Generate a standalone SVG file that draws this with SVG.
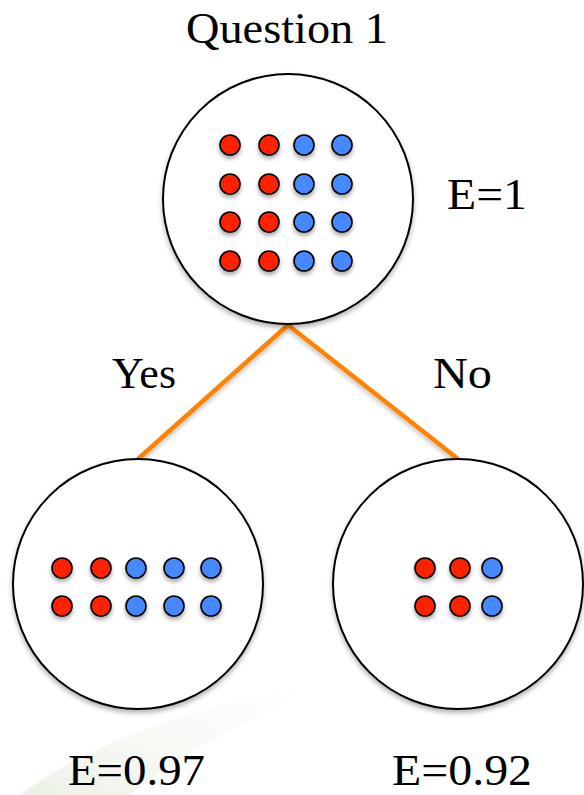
<svg xmlns="http://www.w3.org/2000/svg" width="584" height="795" viewBox="0 0 584 795">
<style>
  .lbl { font-family: "Liberation Serif", "DejaVu Serif", serif; font-size: 44px; fill: #000; }
  .node { fill: #fff; stroke: #000; stroke-width: 2; filter: url(#sh); }
  .r { fill: #ff2200; stroke: #000; stroke-width: 1.6; filter: url(#dsh); }
  .b { fill: #4488ff; stroke: #000; stroke-width: 1.6; filter: url(#dsh); }
  .edge { stroke: #ff8200; stroke-width: 4.5; fill: none; filter: url(#lsh); }
</style>
<defs>
  <filter id="sh" x="-10%" y="-10%" width="120%" height="125%">
    <feDropShadow dx="0" dy="3" stdDeviation="2.5" flood-color="#000" flood-opacity="0.3"/>
  </filter>
  <filter id="dsh" x="-50%" y="-50%" width="200%" height="220%">
    <feDropShadow dx="0" dy="3" stdDeviation="2" flood-color="#000" flood-opacity="0.35"/>
  </filter>
  <filter id="lsh" x="-10%" y="-10%" width="120%" height="130%">
    <feDropShadow dx="0" dy="3" stdDeviation="2" flood-color="#000" flood-opacity="0.25"/>
  </filter>
  <linearGradient id="wm" x1="0" y1="1" x2="1" y2="0">
    <stop offset="0" stop-color="#dfe8d6" stop-opacity="0.6"/>
    <stop offset="1" stop-color="#eef3e8" stop-opacity="0"/>
  </linearGradient>
</defs>
<rect width="584" height="795" fill="#fff"/>
<path d="M20,795 C100,735 220,700 320,685 C240,725 170,760 130,795 Z" fill="url(#wm)"/>

<g id="connectors">
  <line class="edge" x1="288" y1="325" x2="138" y2="459"/>
  <line class="edge" x1="288" y1="325" x2="458" y2="459"/>
</g>

<g id="root">
  <circle class="node" cx="288" cy="199" r="125"/>
  <circle class="r" cx="230" cy="145" r="10"/><circle class="r" cx="269" cy="145" r="10"/><circle class="b" cx="304" cy="145" r="10"/><circle class="b" cx="342" cy="145" r="10"/>
  <circle class="r" cx="230" cy="184" r="10"/><circle class="r" cx="269" cy="184" r="10"/><circle class="b" cx="304" cy="184" r="10"/><circle class="b" cx="342" cy="184" r="10"/>
  <circle class="r" cx="230" cy="222" r="10"/><circle class="r" cx="269" cy="222" r="10"/><circle class="b" cx="304" cy="222" r="10"/><circle class="b" cx="342" cy="222" r="10"/>
  <circle class="r" cx="230" cy="261" r="10"/><circle class="r" cx="269" cy="261" r="10"/><circle class="b" cx="304" cy="261" r="10"/><circle class="b" cx="342" cy="261" r="10"/>
</g>

<g id="yes-node">
  <circle class="node" cx="138" cy="584" r="125"/>
  <circle class="r" cx="62" cy="568" r="10"/><circle class="r" cx="101" cy="568" r="10"/><circle class="b" cx="136" cy="568" r="10"/><circle class="b" cx="174" cy="568" r="10"/><circle class="b" cx="211" cy="568" r="10"/>
  <circle class="r" cx="62" cy="606" r="10"/><circle class="r" cx="101" cy="606" r="10"/><circle class="b" cx="136" cy="606" r="10"/><circle class="b" cx="174" cy="606" r="10"/><circle class="b" cx="211" cy="606" r="10"/>
</g>

<g id="no-node">
  <circle class="node" cx="458" cy="584" r="125"/>
  <circle class="r" cx="425" cy="568" r="10"/><circle class="r" cx="460" cy="568" r="10"/><circle class="b" cx="492" cy="568" r="10"/>
  <circle class="r" cx="425" cy="606" r="10"/><circle class="r" cx="460" cy="606" r="10"/><circle class="b" cx="492" cy="606" r="10"/>
</g>

<g id="labels">
  <text class="lbl" x="186" y="43" textLength="202" lengthAdjust="spacingAndGlyphs">Question 1</text>
  <text class="lbl" x="447" y="209" textLength="80" lengthAdjust="spacingAndGlyphs">E=1</text>
  <text class="lbl" x="112" y="388" textLength="64" lengthAdjust="spacingAndGlyphs">Yes</text>
  <text class="lbl" x="433" y="388" textLength="59" lengthAdjust="spacingAndGlyphs">No</text>
  <text class="lbl" x="68" y="785" font-size="42" textLength="137" lengthAdjust="spacingAndGlyphs">E=0.97</text>
  <text class="lbl" x="392" y="785" font-size="42" textLength="140" lengthAdjust="spacingAndGlyphs">E=0.92</text>
</g>
</svg>
